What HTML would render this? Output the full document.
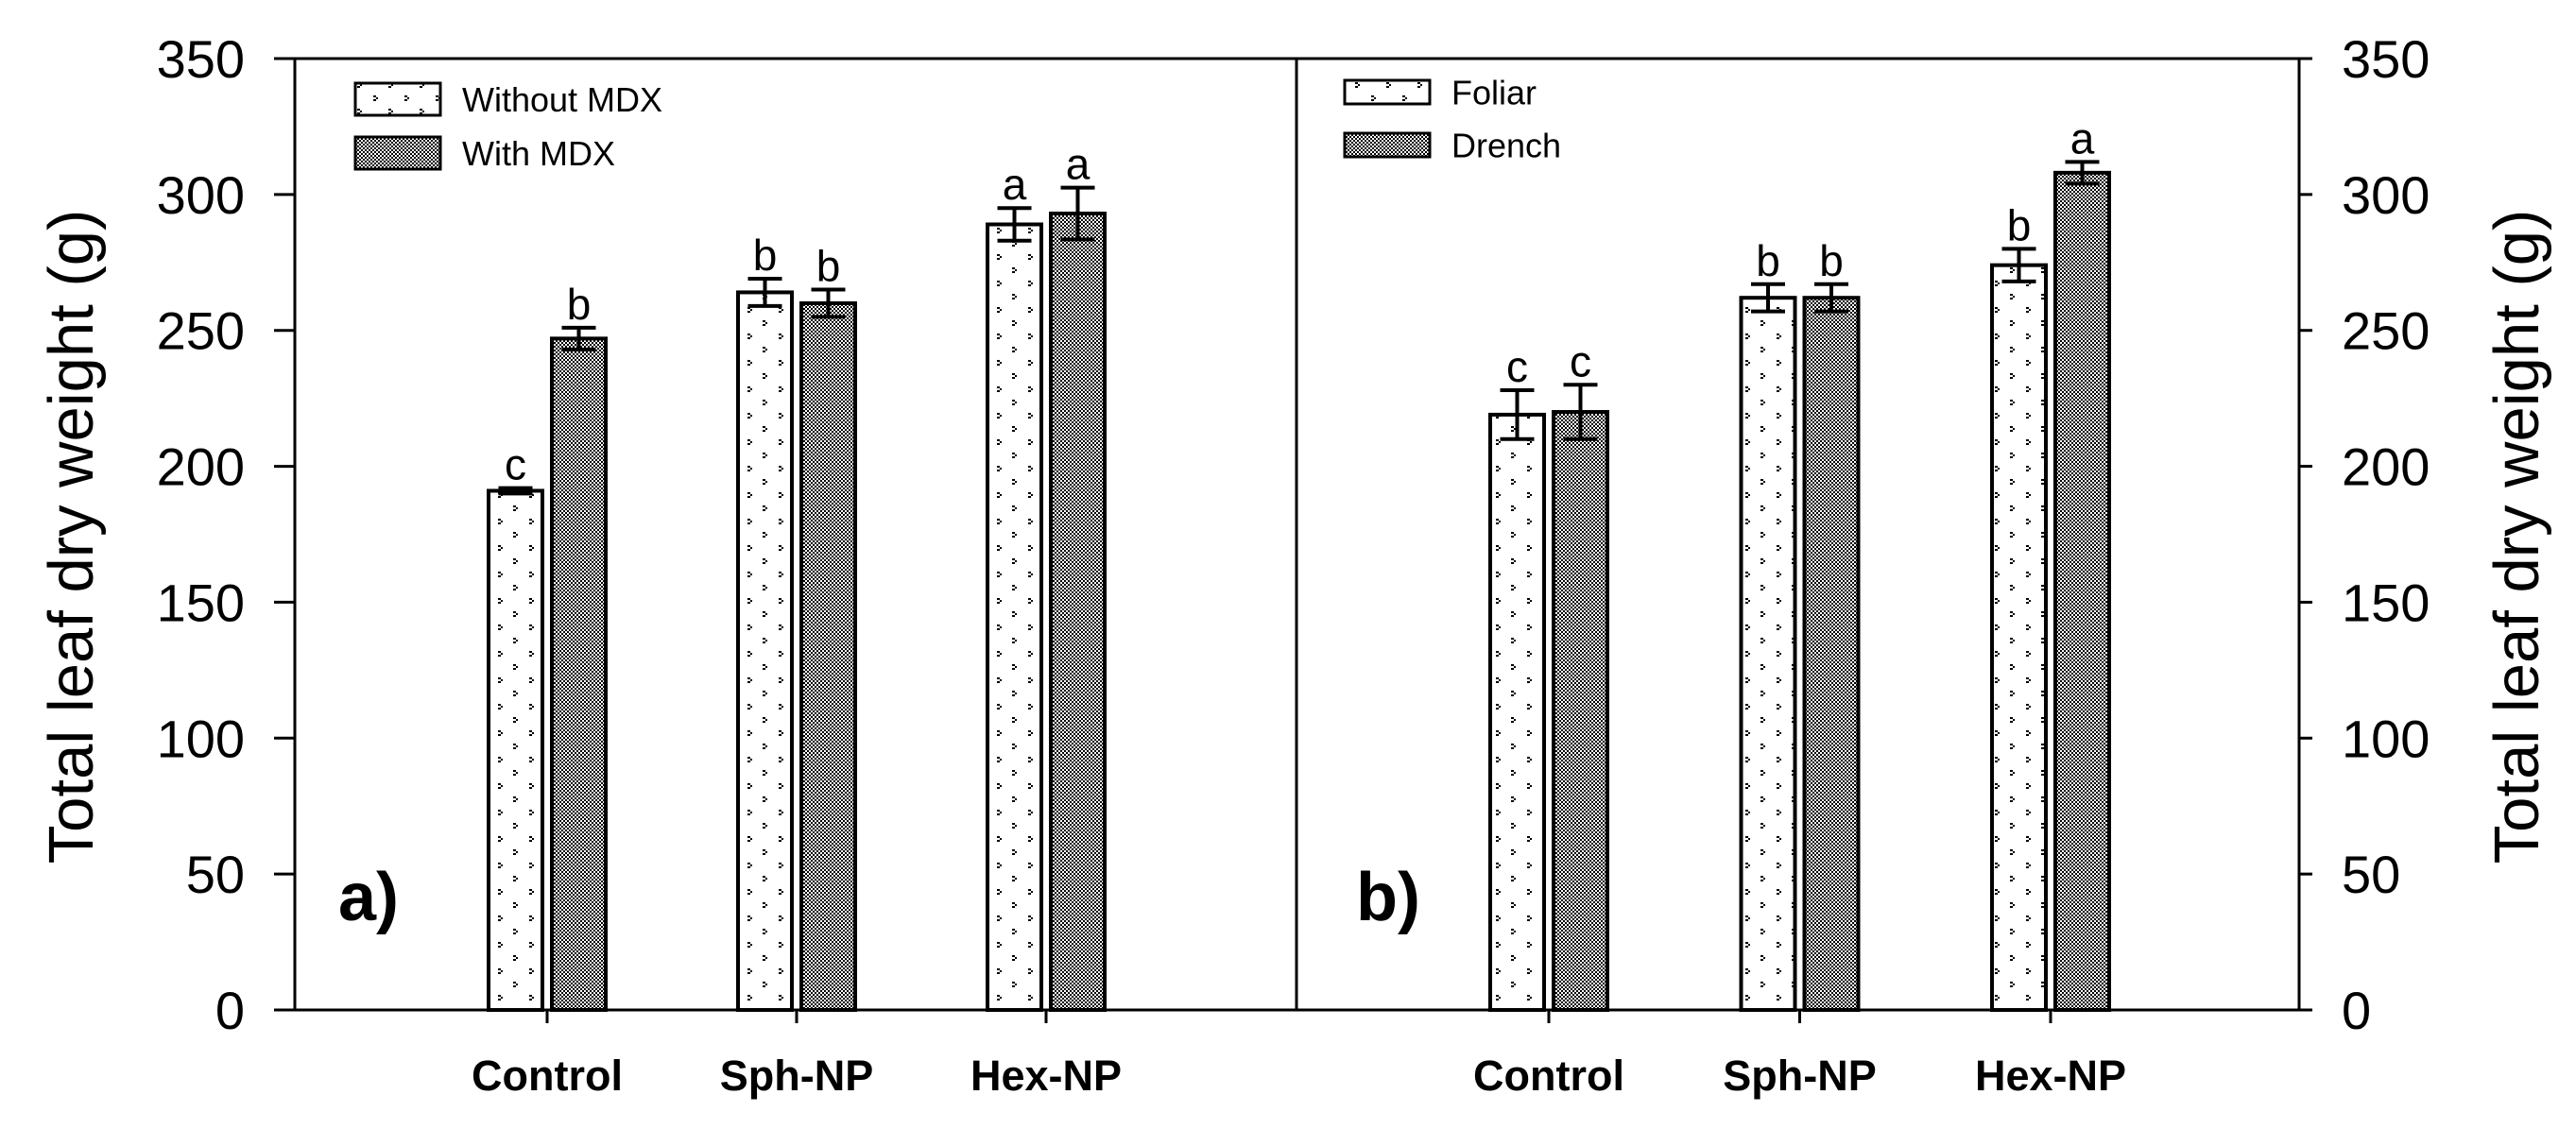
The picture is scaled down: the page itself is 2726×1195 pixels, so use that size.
<!DOCTYPE html>
<html><head><meta charset="utf-8"><style>
html,body{margin:0;padding:0;background:#fff;}
svg{display:block;font-family:"Liberation Sans",Arial,sans-serif;}
</style></head><body>
<svg id="chart" width="2726" height="1195" viewBox="0 0 2726 1195" xmlns="http://www.w3.org/2000/svg">
<defs>
<pattern id="sparse" width="33" height="28" patternUnits="userSpaceOnUse">
<rect width="33" height="28" fill="#fff"/>
<path d="M15 3h3v2h-3zM18 5h2v2h-2zM15 7h3v2h-3z M-1 17h3v2h-3zM2 19h2v2h-2zM-1 21h3v2h-3z M32 17h3v2h-3zM35 19h2v2h-2zM32 21h3v2h-3z" fill="#000"/>
</pattern>
<pattern id="dense" width="16" height="16" patternUnits="userSpaceOnUse">
<rect width="16" height="16" fill="#fff"/>
<path d="M0 0h2v2h-2zM4 0h2v2h-2zM8 0h2v2h-2zM12 0h2v2h-2zM2 2h2v2h-2zM6 2h2v2h-2zM10 2h2v2h-2zM14 2h2v2h-2zM0 4h2v2h-2zM4 4h2v2h-2zM8 4h2v2h-2zM12 4h2v2h-2zM2 6h2v2h-2zM6 6h2v2h-2zM10 6h2v2h-2zM14 6h2v2h-2zM0 8h2v2h-2zM4 8h2v2h-2zM8 8h2v2h-2zM12 8h2v2h-2zM2 10h2v2h-2zM6 10h2v2h-2zM10 10h2v2h-2zM14 10h2v2h-2zM0 12h2v2h-2zM4 12h2v2h-2zM8 12h2v2h-2zM12 12h2v2h-2zM2 14h2v2h-2zM6 14h2v2h-2zM10 14h2v2h-2zM14 14h2v2h-2z" fill="#000"/>
</pattern>
</defs>
<g id="root"></g>
</svg>
<script>
const categories = ["Control", "Sph-NP", "Hex-NP"];
const aSeries1 = [191, 264, 289];
const aErr1 = [1, 5, 6];
const aSeries2 = [247, 260, 293];
const aErr2 = [4, 5, 9.5];
const aLetters1 = ["c", "b", "a"];
const aLetters2 = ["b", "b", "a"];
const bSeries1 = [219, 262, 274];
const bErr1 = [9, 5, 6];
const bSeries2 = [220, 262, 308];
const bErr2 = [10, 5, 4];
const bLetters1 = ["c", "b", "b"];
const bLetters2 = ["c", "b", "a"];
const yTicks = [0, 50, 100, 150, 200, 250, 300, 350];

const NS = "http://www.w3.org/2000/svg";
const root = document.getElementById("root");
const Y0 = 1069, Y1 = 62, YMAX = 350;
const y = v => Y0 - (v / YMAX) * (Y0 - Y1);
function el(tag, attrs, parent, text) {
  const e = document.createElementNS(NS, tag);
  for (const k in attrs) e.setAttribute(k, attrs[k]);
  if (text !== undefined) e.textContent = text;
  (parent || root).appendChild(e);
  return e;
}
const L = 312, M = 1372, R = 2433;
let f = el("rect", {x: L, y: Y1, width: R - L, height: Y0 - Y1, fill: "none", stroke: "#000", "stroke-width": 3});


let dv = el("line", {x1: M, y1: Y1, x2: M, y2: Y0, stroke: "#000", "stroke-width": 3});



yTicks.forEach(t => {
  const yy = y(t);
  let a = el("line", {x1: L - 22, y1: yy, x2: L, y2: yy, stroke: "#000", "stroke-width": 3});
  
  
  let b = el("line", {x1: R, y1: yy, x2: R + 14, y2: yy, stroke: "#000", "stroke-width": 3});
  
  
  let lt = el("text", {x: 259, y: yy + 20, "font-size": 56, "text-anchor": "end"}, root, String(t));
  
  
  let rt = el("text", {x: 2478, y: yy + 20, "font-size": 56, "text-anchor": "start"}, root, String(t));
  
  
});
let yt1 = el("text", {x: 0, y: 0, "font-size": 67, "text-anchor": "middle", transform: "translate(98,568) rotate(-90)"}, root, "Total leaf dry weight (g)");


let yt2 = el("text", {x: 0, y: 0, "font-size": 67, "text-anchor": "middle", transform: "translate(2686,568) rotate(-90)"}, root, "Total leaf dry weight (g)");



function panel(name, x0, step, s1, e1, s2, e2, l1, l2) {
  const bw = 57, gap = 10;
  categories.forEach((c, i) => {
    const cx = x0 + i * step;
    let tk = el("line", {x1: cx, y1: Y0, x2: cx, y2: Y0 + 14, stroke: "#000", "stroke-width": 3});
    
    
    let cl = el("text", {x: cx, y: 1154, "font-size": 45, "font-weight": "bold", "text-anchor": "middle"}, root, c);
    
    
    [[s1[i], e1[i], l1[i], "sparse", cx - gap / 2 - bw], [s2[i], e2[i], l2[i], "dense", cx + gap / 2]].forEach((d, j) => {
      const [v, e, lab, pat, bx] = d;
      let r = el("rect", {x: bx, y: y(v), width: bw, height: Y0 - y(v), fill: "url(#" + pat + ")", stroke: "#000", "stroke-width": 4});
      
      
      const mx = bx + bw / 2;
      const g = el("g", {stroke: "#000", "stroke-width": 4});
      
      
      el("line", {x1: mx, y1: y(v + e), x2: mx, y2: y(v - e)}, g);
      el("line", {x1: mx - 18, y1: y(v + e), x2: mx + 18, y2: y(v + e)}, g);
      el("line", {x1: mx - 18, y1: y(v - e), x2: mx + 18, y2: y(v - e)}, g);
      let lt = el("text", {x: mx, y: y(v + e) - 9, "font-size": 46, "text-anchor": "middle"}, root, lab);
      
      
    });
  });
}
panel("panel-a", 579, 264, aSeries1, aErr1, aSeries2, aErr2, aLetters1, aLetters2);
panel("panel-b", 1639, 265.5, bSeries1, bErr1, bSeries2, bErr2, bLetters1, bLetters2);

function legend(name, x, yA, yB, h, t1, t2, fs) {
  let a = el("rect", {x: x, y: yA, width: 90, height: h, fill: "url(#sparse)", stroke: "#000", "stroke-width": 3});
  
  
  let b = el("rect", {x: x, y: yB, width: 90, height: h, fill: "url(#dense)", stroke: "#000", "stroke-width": 3});
  
  
  let c = el("text", {x: x + 113, y: yA + h / 2 + 13, "font-size": fs}, root, t1);
  
  
  let d = el("text", {x: x + 113, y: yB + h / 2 + 13, "font-size": fs}, root, t2);
  
  
}
legend("panel-a", 376, 88, 145, 34, "Without MDX", "With MDX", 36);
legend("panel-b", 1423, 85, 141, 25, "Foliar", "Drench", 36);

let pa = el("text", {x: 358, y: 974, "font-size": 72, "font-weight": "bold"}, root, "a)");


let pb = el("text", {x: 1435, y: 974, "font-size": 72, "font-weight": "bold"}, root, "b)");


</script>
</body></html>
